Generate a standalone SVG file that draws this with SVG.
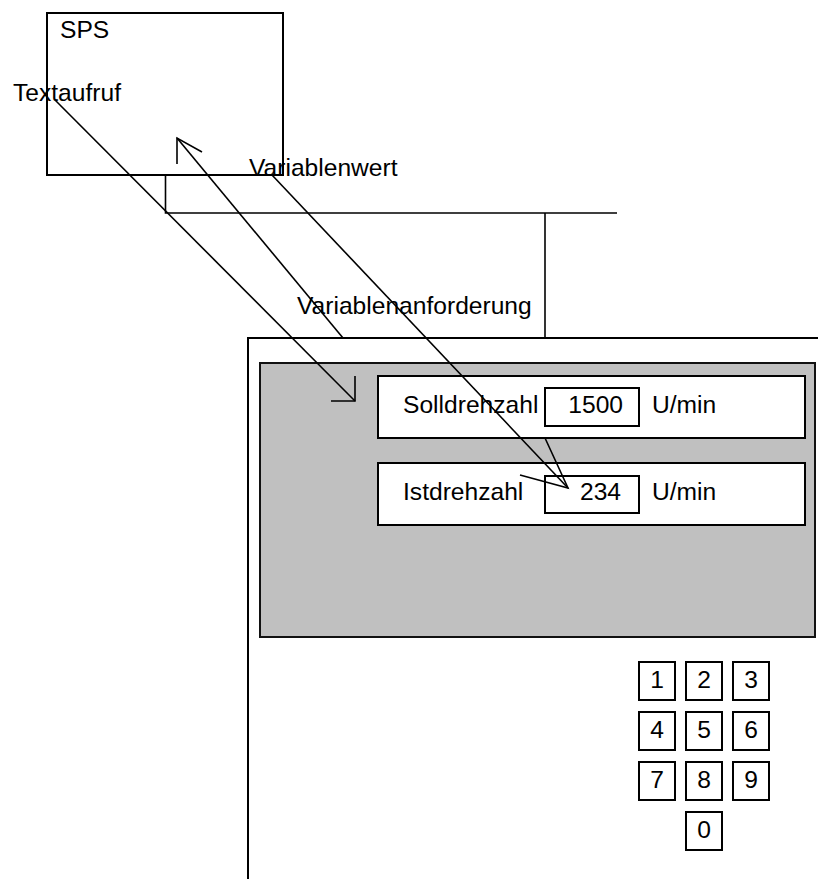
<svg xmlns="http://www.w3.org/2000/svg" width="818" height="879" viewBox="0 0 818 879">
<style>
text{font-family:"Liberation Sans",Arial,sans-serif;font-size:24.6px;fill:#000}
.box{fill:#fff;stroke:#000;stroke-width:2}
.key{fill:#fff;stroke:#000;stroke-width:2}
.ln{fill:none;stroke:#000;stroke-width:1.6}
.k{text-anchor:middle}
</style>
<rect width="818" height="879" fill="#fff"/>
<g id="sps">
<rect class="box" x="47" y="13" width="236" height="162"/>
<text x="60" y="38">SPS</text>
</g>
<g id="bus">
<polyline class="ln" points="165.5,175 165.5,213 617,213"/>
<line class="ln" x1="545" y1="213" x2="545" y2="338"/>
</g>
<g id="panel">
<path d="M248,879 V338 H818" fill="none" stroke="#000" stroke-width="2"/>
<rect x="260" y="363" width="555" height="274" fill="#c0c0c0" stroke="#111" stroke-width="2"/>
</g>
<g id="soll">
<rect class="box" x="378" y="376" width="427" height="62"/>
<text x="403" y="413">Solldrehzahl</text>
<rect class="box" x="545" y="388" width="94" height="38"/>
<text x="623" y="413" text-anchor="end">1500</text>
<text x="652" y="413">U/min</text>
</g>
<g id="ist">
<rect class="box" x="378" y="463" width="427" height="62"/>
<text x="403" y="500">Istdrehzahl</text>
<rect class="box" x="545" y="476" width="94" height="37"/>
<text x="621" y="500" text-anchor="end">234</text>
<text x="652" y="500">U/min</text>
</g>
<g id="keypad">
<rect class="key" x="639" y="662" width="36" height="38"/><text class="k" x="657" y="688">1</text>
<rect class="key" x="686" y="662" width="36" height="38"/><text class="k" x="704" y="688">2</text>
<rect class="key" x="733" y="662" width="36" height="38"/><text class="k" x="751" y="688">3</text>
<rect class="key" x="639" y="712" width="36" height="38"/><text class="k" x="657" y="738">4</text>
<rect class="key" x="686" y="712" width="36" height="38"/><text class="k" x="704" y="738">5</text>
<rect class="key" x="733" y="712" width="36" height="38"/><text class="k" x="751" y="738">6</text>
<rect class="key" x="639" y="762" width="36" height="38"/><text class="k" x="657" y="788">7</text>
<rect class="key" x="686" y="762" width="36" height="38"/><text class="k" x="704" y="788">8</text>
<rect class="key" x="733" y="762" width="36" height="38"/><text class="k" x="751" y="788">9</text>
<rect class="key" x="686" y="812" width="36" height="38"/><text class="k" x="704" y="838">0</text>
</g>
<g id="connectors">
<line class="ln" x1="55" y1="100" x2="355" y2="401"/>
<polyline class="ln" points="355,376 355,401 331,401"/>
<line class="ln" x1="177" y1="138" x2="343" y2="338"/>
<polyline class="ln" points="177,164 177,138 202,152"/>
<line class="ln" x1="272" y1="175" x2="568" y2="488"/>
<polyline class="ln" points="545,438 568,488 520,475"/>
</g>
<g id="labels">
<text x="13" y="101">Textaufruf</text>
<text x="249" y="176">Variablenwert</text>
<text x="297" y="314">Variablenanforderung</text>
</g>
</svg>
